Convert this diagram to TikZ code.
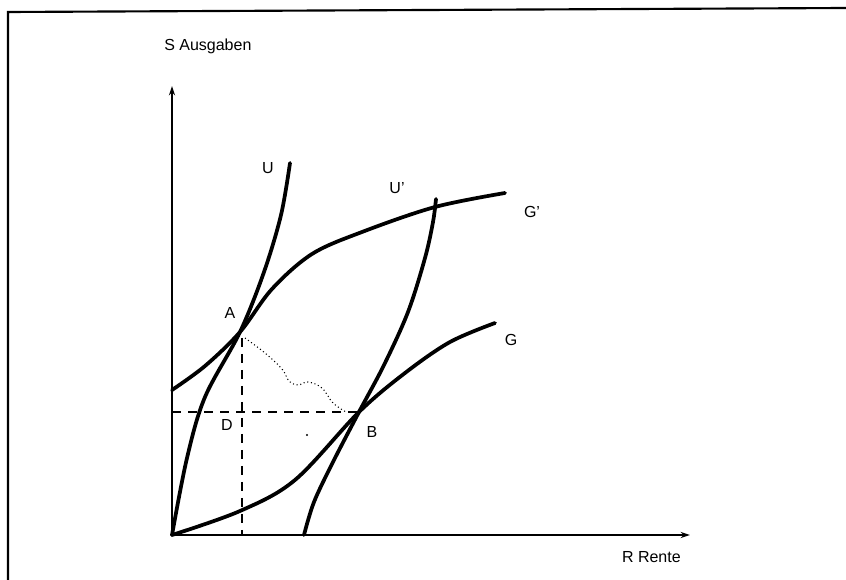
\documentclass[tikz,border=0pt]{standalone}
\usepackage{fontspec}
\setmainfont{Liberation Sans}
\usetikzlibrary{arrows.meta}
\begin{document}
\begin{tikzpicture}[x=0.75pt,y=-0.75pt,
  curve/.style={line width=2.8pt,line cap=round,line join=round},
  axis/.style={line width=2.2pt},
  guide/.style={line width=1.1pt,dash pattern=on 7pt off 5pt},
  lab/.style={font=\fontsize{12}{14}\selectfont,inner sep=0pt},
  frameline/.style={line width=1.6pt}]
\useasboundingbox (0,0) rectangle (846,580);
% frame
\coordinate (F1) at (8,580);
\coordinate (F2) at (8,12);
\coordinate (F3) at (846,8);
\draw[frameline] (F1) -- (F2) -- (F3);
% key points
\coordinate (O) at (172,535);
\coordinate (Ytop) at (172,86);
\coordinate (Xend) at (690,535);
\coordinate (A) at (240,332);
\coordinate (B) at (359,412);
\coordinate (Yd) at (172,412);
\coordinate (Av) at (242,338);
\coordinate (Xd) at (242,535);
% axes
\draw[axis,-{Stealth[length=7pt,width=4.5pt]}] (O) -- (Ytop);
\draw[axis,-{Stealth[length=7pt,width=4.5pt]}] (O) -- (Xend);
% U
\draw[curve] plot[smooth,tension=0.55] coordinates {(172,535) (187,458) (205,397) (A) (264,272) (281,215) (290,163)};
% U'
\draw[curve] plot[smooth,tension=0.55] coordinates {(304,535) (314,502) (333,462) (B) (384,365) (408,312) (425,258) (433,222) (436,199)};
% G'
\draw[curve] plot[smooth,tension=0.55] coordinates {(172,390) (205,366) (A) (272,289) (312,254) (362,232) (435,207) (505,193)};
% G
\draw[curve] plot[smooth,tension=0.55] coordinates {(172,535) (240,511) (295,480) (B) (405,373) (450,342) (495,323)};
% dashed guides
\draw[guide] (Yd) -- (B);
\draw[guide] (Av) -- (Xd);
% dotted path
\draw[line width=0.8pt,dotted] plot[smooth,tension=0.6] coordinates {(245,338) (265,353) (282,369) (289,381) (298,385) (308,382) (322,388) (333,403) (346,412)};
% speck
\fill (307,435) circle (1.2);
% labels
\node[lab,anchor=west] (ylab) at (164,46) {S Ausgaben};
\node[lab,anchor=east] (xlab) at (681,557) {R Rente};
\node[lab] (lU) at (268,168) {U};
\node[lab] (lUp) at (397,188) {U'};
\node[lab] (lGp) at (532,212) {G'};
\node[lab] (lG) at (511,340) {G};
\node[lab] (lA) at (230,313) {A};
\node[lab] (lB) at (372,432) {B};
\node[lab] (lD) at (227,425) {D};
\end{tikzpicture}
\end{document}
